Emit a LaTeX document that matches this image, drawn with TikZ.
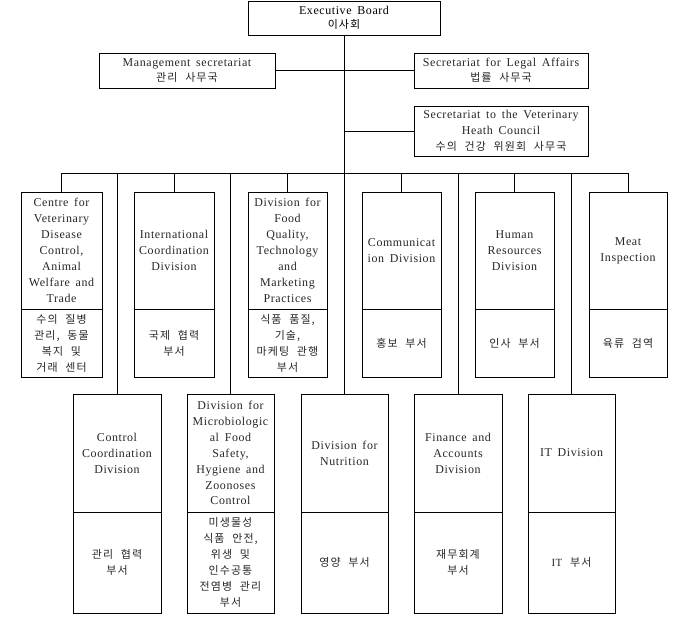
\documentclass[tikz,border=0pt]{standalone}
\usepackage{fontspec}
\setmainfont{Liberation Serif}[LetterSpace=5,WordSpace=1.6]
\newfontfamily\krfont{Noto Sans CJK KR}[LetterSpace=10,WordSpace=2.2]
\usetikzlibrary{fit}
\newcommand\entext{\fontsize{12}{16}\selectfont}
\newcommand\kotext{\fontsize{11}{16}\selectfont\krfont}
\tikzset{
  frame/.style={draw, line width=0.9bp, inner sep=0pt},
  en/.style={align=center, font=\entext, text=black!85, inner sep=0pt},
  ko/.style={align=center, font=\kotext, text=black!85, inner sep=0pt},
  link/.style={line width=0.9bp},
}
% name, x1, x2, ytop, ymid, ybot, upper text, lower text
\newcommand\divbox[8]{%
  \coordinate (#1tl) at (#2,#4);
  \coordinate (#1br) at (#3,#6);
  \node[frame, fit=(#1tl)(#1br)] (#1) {};
  \coordinate (#1ml) at (#2,#5);
  \coordinate (#1mr) at (#3,#5);
  \draw[link] (#1ml) -- (#1mr);
  \node[en] (#1u) at ({(#2+#3)/2},{(#4+#5)/2}) {#7};
  \node[ko] (#1l) at ({(#2+#3)/2},{(#5+#6)/2}) {#8};
}
\begin{document}
\begin{tikzpicture}[x=1bp,y=-1bp]
\useasboundingbox (0,0) rectangle (688,623);

% top boxes
\node[frame, minimum width=192bp, minimum height=34bp, en, text=black] (exec) at (344,18) {Executive Board\\[-2pt]{\kotext 이사회}};
\node[frame, minimum width=176bp, minimum height=35bp, en] (mgmt) at (187,70.5) {Management secretariat\\[-1pt]{\kotext 관리 사무국}};
\node[frame, minimum width=174bp, minimum height=35bp, en] (legal) at (501,70.5) {Secretariat for Legal Affairs\\[-1pt]{\kotext 법률 사무국}};
\node[frame, minimum width=174bp, minimum height=50bp, en] (vet) at (501,131) {Secretariat to the Veterinary\\Heath Council\\{\kotext 수의 건강 위원회 사무국}};

% row 1
\divbox{d1}{21}{102}{192}{309}{377}{Centre for\\Veterinary\\Disease\\Control,\\Animal\\Welfare and\\Trade}{수의 질병\\관리, 동물\\복지 및\\거래 센터}
\divbox{d2}{134}{214}{192}{309}{377}{International\\Coordination\\Division}{국제 협력\\부서}
\divbox{d3}{248}{327}{192}{309}{377}{Division for\\Food\\Quality,\\Technology\\and\\Marketing\\Practices}{식품 품질,\\기술,\\마케팅 관행\\부서}
\divbox{d4}{362}{441}{192}{309}{377}{Communicat\\ion Division}{홍보 부서}
\divbox{d5}{475}{554}{192}{309}{377}{Human\\Resources\\Division}{인사 부서}
\divbox{d6}{589}{667}{192}{309}{377}{Meat\\Inspection}{육류 검역}

% row 2
\divbox{d7}{73}{161}{394}{512}{613}{Control\\Coordination\\Division}{관리 협력\\부서}
\divbox{d8}{187}{274}{394}{512}{613}{Division for\\Microbiologic\\al Food\\Safety,\\Hygiene and\\Zoonoses\\Control}{미생물성\\식품 안전,\\위생 및\\인수공통\\전염병 관리\\부서}
\divbox{d9}{301}{388}{394}{512}{613}{Division for\\Nutrition}{영양 부서}
\divbox{d10}{414}{502}{394}{512}{613}{Finance and\\Accounts\\Division}{재무회계\\부서}
\divbox{d11}{528}{615}{394}{512}{613}{IT Division}{{\fontspec{Liberation Serif}[LetterSpace=5,WordSpace=1.6]IT} 부서}

% connectors
\coordinate (bar) at (345,173);
\draw[link] (exec.south) -- (exec.south |- d9.north);
\draw[link] (mgmt.east) -- (legal.west);
\draw[link] (exec.south |- vet.west) -- (vet.west);
\draw[link] (d1.north |- bar) -- (d6.north |- bar);
\foreach \n in {d1,d2,d3,d4,d5,d6,d7,d8,d10,d11}{
  \draw[link] (\n.north) -- (\n.north |- bar);
}
\end{tikzpicture}
\end{document}
